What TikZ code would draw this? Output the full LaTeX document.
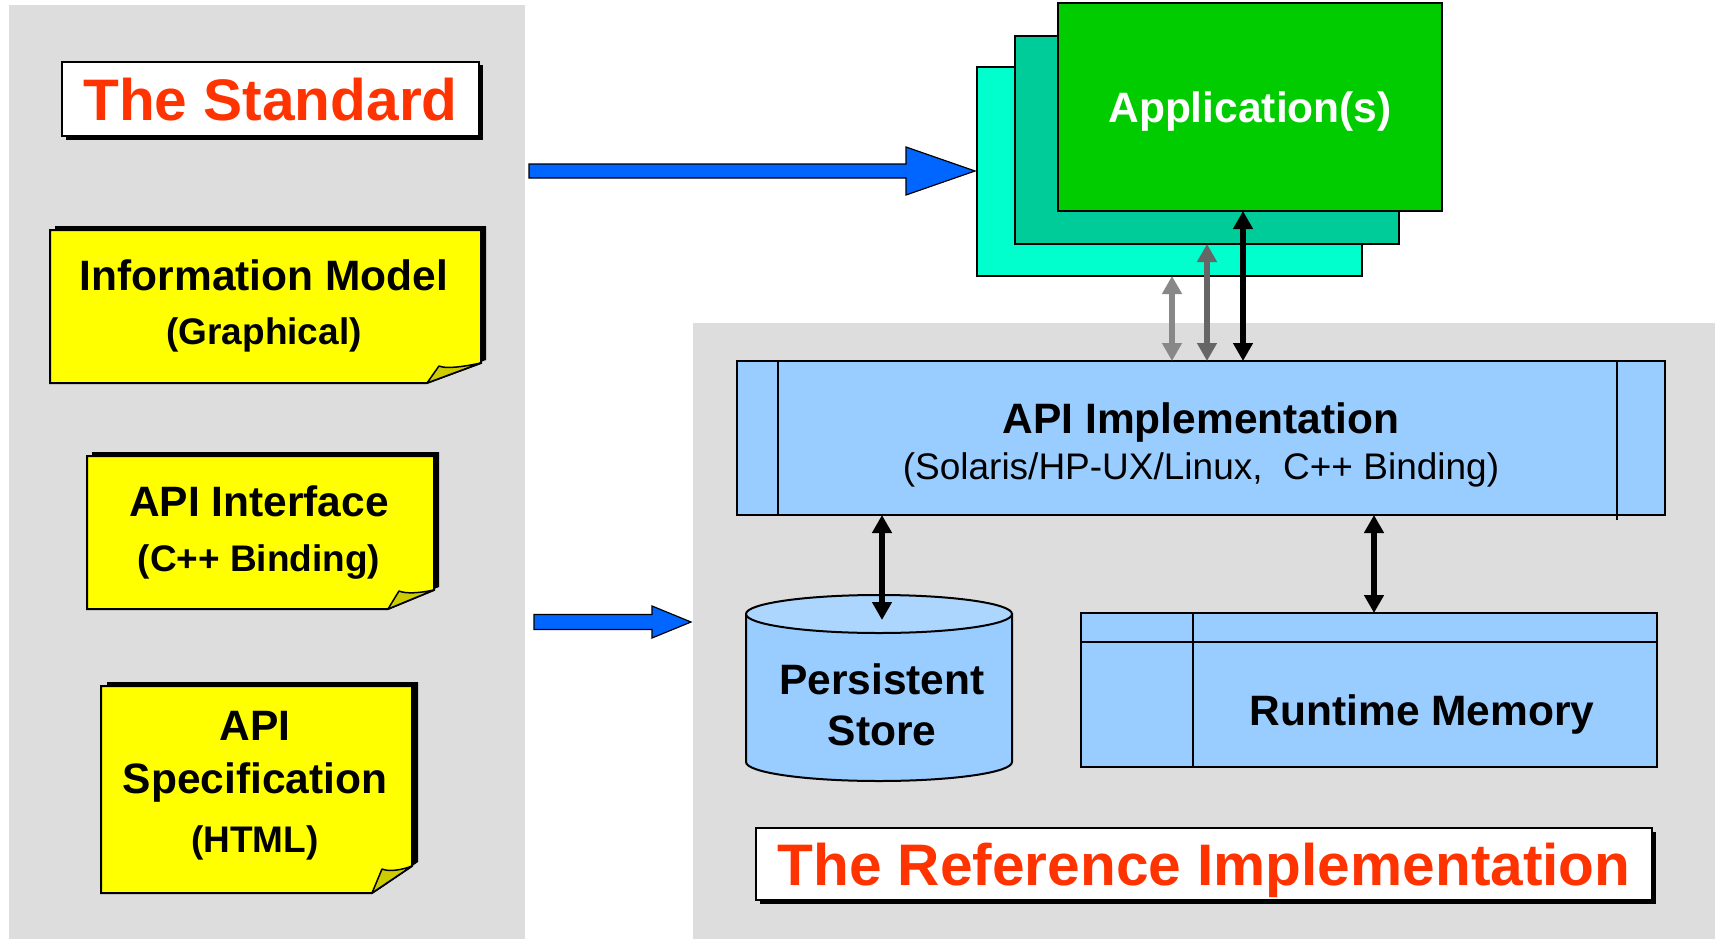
\documentclass[tikz,border=0pt]{standalone}
\usepackage{fontspec}
\setmainfont{Liberation Sans}
\usetikzlibrary{arrows.meta,calc,shadows}
\definecolor{panel}{HTML}{DDDDDD}
\definecolor{noteyellow}{HTML}{FFFF00}
\definecolor{notefold}{HTML}{CCCC00}
\definecolor{titlered}{HTML}{FF3300}
\definecolor{arrowblue}{HTML}{0066FF}
\definecolor{appbackc}{HTML}{00FFCC}
\definecolor{appmidc}{HTML}{00CC99}
\definecolor{appfrontc}{HTML}{00CC00}
\definecolor{implblue}{HTML}{99CCFF}
\definecolor{cyltopc}{HTML}{ADD6FF}
\definecolor{lgray}{HTML}{888888}
\definecolor{dgray}{HTML}{666666}
\tikzset{
  bigtitle/.style={font=\fontsize{58.6}{66}\selectfont\bfseries, text=titlered, text depth=0pt},
  lbl/.style={font=\fontsize{42.5}{48}\selectfont\bfseries, text depth=0pt},
  sublbl/.style={font=\fontsize{37}{42}\selectfont\bfseries, text depth=0pt},
  subreg/.style={font=\fontsize{37}{42}\selectfont, text depth=0pt},
  panelbox/.style={fill=panel, inner sep=0pt, outer sep=0pt},
  boxed/.style={draw, line width=2pt, inner sep=0pt, outer sep=0pt},
  titleshadow/.style={drop shadow={shadow xshift=3.5pt, shadow yshift=-3.5pt, fill=black, opacity=1}},
  notebody/.style={draw, line width=2pt, fill=noteyellow, line join=miter},
  noteshadow/.style={fill=black},
  notefoldst/.style={draw, line width=1.5pt, fill=notefold, line join=round},
  bluearrowst/.style={draw, line width=1.2pt, fill=arrowblue, line join=miter},
  dblhead/.style={{Triangle[width=19pt,length=18pt]}-{Triangle[width=19pt,length=18pt]}},
  dblblack/.style={line width=6pt, draw=black, dblhead},
  dbldgray/.style={line width=6pt, draw=dgray, dblhead},
  dbllgray/.style={line width=6pt, draw=lgray, dblhead},
  thinline/.style={line width=1.8pt}
}
\begin{document}
\begin{tikzpicture}[x=1pt,y=-1pt]
\useasboundingbox (0,0) rectangle (1715,939);
\fill[white] (0,0) rectangle (1715,939);

% ---------- panels
\node[panelbox, minimum width=516pt, minimum height=934pt] (stdpanel) at (267,472) {};
\node[panelbox, minimum width=1022pt, minimum height=616pt] (refpanel) at (1204,631) {};

% ---------- The Standard
\node[boxed, fill=white, titleshadow, minimum width=417pt, minimum height=74pt, bigtitle] (std) at (270.5,99) {The Standard};

% ---------- sticky notes
% Information Model
\fill[noteshadow] (55,226) -- (486,226) -- (486,360) -- (432,380) -- (55,380) -- cycle;
\path[notebody] (50,230) -- (481,230) -- (481,363) -- (427,383) -- (50,383) -- cycle;
\path[notefoldst] (427,383) -- (439,366) .. controls (446,369) and (462,367) .. (481,363) -- cycle;
\node[lbl] (infot) at (264,275) {Information Model};
\node[sublbl] (infos) at (264,331) {(Graphical)};

% API Interface
\fill[noteshadow] (92,452) -- (439,452) -- (439,587) -- (393,606) -- (92,606) -- cycle;
\path[notebody] (87,456) -- (434,456) -- (434,590) -- (388,609) -- (87,609) -- cycle;
\path[notefoldst] (388,609) -- (399,591) .. controls (406,594) and (420,593) .. (434,590) -- cycle;
\node[lbl] (intt) at (259,501) {API Interface};
\node[sublbl] (ints) at (259,558) {(C++ Binding)};

% API Specification
\fill[noteshadow] (107,682) -- (418,682) -- (418,862) -- (378,890) -- (107,890) -- cycle;
\path[notebody] (101,686) -- (412,686) -- (412,866) -- (372,893) -- (101,893) -- cycle;
\path[notefoldst] (372,893) -- (382,869) .. controls (389,872) and (402,870) .. (412,866) -- cycle;
\node[lbl] (spec1) at (255,726) {API};
\node[lbl] (spec2) at (255,778) {Specification};
\node[sublbl] (spec3) at (255,839) {(HTML)};

% ---------- Applications
\node[boxed, fill=appbackc, minimum width=385pt, minimum height=209pt] (app3) at (1169.5,171.5) {};
\node[boxed, fill=appmidc, minimum width=384pt, minimum height=208pt] (app2) at (1207,140) {};
\node[boxed, fill=appfrontc, minimum width=384pt, minimum height=208pt, lbl, text=white] (app1) at (1250,107) {Application(s)};

% ---------- blue block arrows
\coordinate (b1s) at (529,171);
\coordinate (b1t) at (975,171);
\path[bluearrowst] (b1s) ++(0,-7) -- ($(b1t)+(-69,-7)$) -- ($(b1t)+(-69,-24)$) -- (b1t)
   -- ($(b1t)+(-69,24)$) -- ($(b1t)+(-69,7)$) -- ($(b1s)+(0,7)$) -- cycle;
\coordinate (b2s) at (534,622);
\coordinate (b2t) at (691,622);
\path[bluearrowst] (b2s) ++(0,-7.5) -- ($(b2t)+(-39,-7.5)$) -- ($(b2t)+(-39,-16)$) -- (b2t)
   -- ($(b2t)+(-39,16)$) -- ($(b2t)+(-39,7.5)$) -- ($(b2s)+(0,7.5)$) -- cycle;

% ---------- API implementation
\node[boxed, fill=implblue, minimum width=928pt, minimum height=154pt] (api) at (1201,438) {};
\draw[thinline] ($(api.north west)+(41,0)$) -- ($(api.south west)+(41,0)$);
\draw[thinline] ($(api.north east)+(-48,0)$) -- ($(api.south east)+(-48,5)$);
\node[lbl] (apit) at (1201,418) {API Implementation};
\node[subreg] (apis) at (1201,466) {(Solaris/HP-UX/Linux,\ \ C++ Binding)};

% ---------- persistent store (cylinder)
\node[inner sep=0pt, minimum width=266pt, minimum height=186pt] (store) at (879,688) {};
\coordinate (cyltop) at (882,614);
\path[draw, line width=2pt, fill=implblue] (746,614) -- (746,762)
   arc[start angle=180, end angle=0, x radius=133, y radius=19] -- (1012,614) -- cycle;
\draw[line width=2pt, fill=cyltopc] (879,614) ellipse [x radius=133, y radius=19];
\node[lbl] (st1) at (882,679) {Persistent};
\node[lbl] (st2) at (882,731) {Store};

% ---------- runtime memory
\node[boxed, fill=implblue, minimum width=576pt, minimum height=154pt] (rt) at (1369,690) {};
\draw[thinline] ($(rt.north west)+(0,29)$) -- ($(rt.north east)+(0,29)$);
\draw[thinline] ($(rt.north west)+(112,0)$) -- ($(rt.south west)+(112,0)$);
\node[lbl] (rtt) at (1422,710) {Runtime Memory};

% ---------- connectors
\coordinate (xg1) at (1172,0);
\coordinate (xg2) at (1207,0);
\coordinate (xb) at (1243,0);
\coordinate (xr) at (1374,0);
\draw[dbllgray] (app3.south -| xg1) -- (api.north -| xg1);
\draw[dbldgray] (app2.south -| xg2) -- (api.north -| xg2);
\draw[dblblack] (app1.south -| xb) -- (api.north -| xb);
\draw[dblblack] (api.south -| cyltop) -- ($(cyltop)+(0,6)$);
\draw[dblblack] (api.south -| xr) -- (rt.north -| xr);

% ---------- The Reference Implementation
\node[boxed, fill=white, titleshadow, minimum width=896pt, minimum height=72pt, bigtitle] (refimpl) at (1204,864) {The Reference Implementation};
\end{tikzpicture}
\end{document}
